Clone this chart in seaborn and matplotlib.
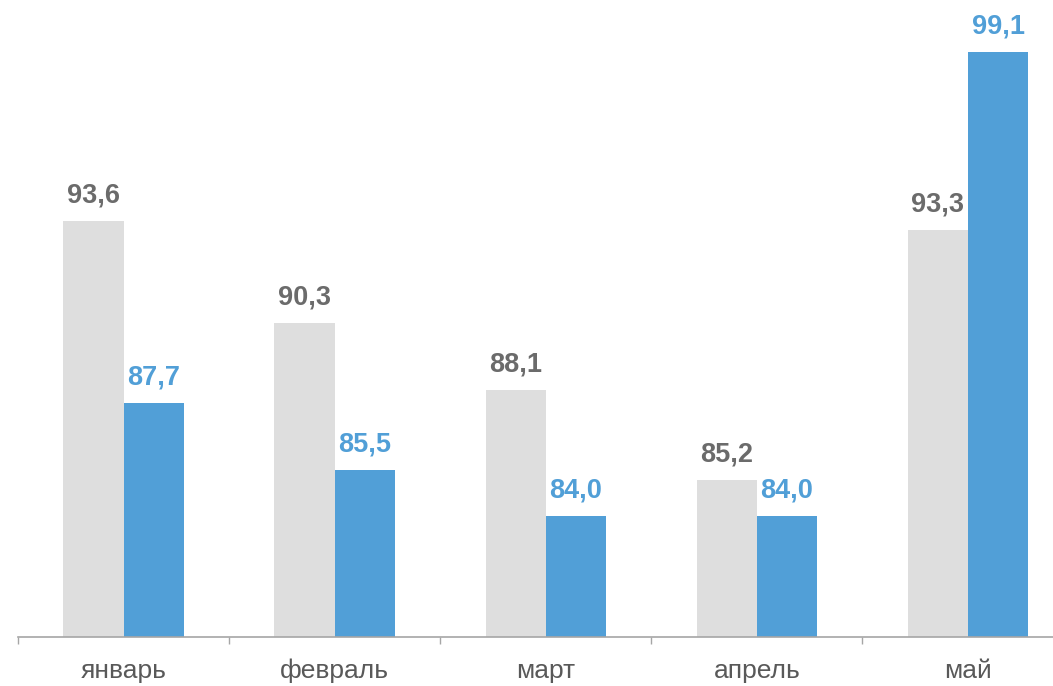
import pandas as pd
import matplotlib.pyplot as plt
import seaborn as sns
import numpy as np

# Chart data
months = ['январь', 'февраль', 'март', 'апрель', 'май']
series_names = ['prev', 'curr']
prev_values = [93.6, 90.3, 88.1, 85.2, 93.3]
curr_values = [87.7, 85.5, 84.0, 84.0, 99.1]

grey = '#dedede'
blue = '#519fd7'

sns.set_theme(style='white')
plt.rcParams['font.family'] = ['Liberation Sans', 'DejaVu Sans']

df = pd.DataFrame({
    'month': months * 2,
    'series': [series_names[0]] * len(months) + [series_names[1]] * len(months),
    'value': prev_values + curr_values,
})

fig = plt.figure(figsize=(10.53, 6.86), dpi=100)
ax = fig.add_axes([18 / 1053, (686 - 636.5) / 686, 1035 / 1053, 636.5 / 686])

sns.barplot(data=df, x='month', y='value', hue='series', order=months,
            hue_order=series_names, palette=[grey, blue], width=0.57,
            gap=0, saturation=1, legend=False, linewidth=0, ax=ax)

# value labels with a decimal comma
label_colors = ['#6b6b6b', blue]
for container, vals, col in zip(ax.containers, [prev_values, curr_values], label_colors):
    ax.bar_label(container, labels=[f'{v:.1f}'.replace('.', ',') for v in vals],
                 padding=9, color=col, fontsize=19.5, fontweight='bold')

ax.set_ylim(80.1, 100.78)
ax.set_xlim(-0.5, 4.403)

# tick marks between groups, labels centered under groups
ax.set_xticks(np.arange(-0.5, 4.0, 1.0))
ax.set_xticklabels([])
ax.set_xticks(range(len(months)), minor=True)
ax.set_xticklabels(months, minor=True, fontsize=19, color='#595959')
ax.tick_params(axis='x', which='major', direction='out', length=5,
               width=1, color='#a6a6a6', bottom=True)
ax.tick_params(axis='x', which='minor', length=0, pad=16)
ax.set_yticks([])
ax.set_xlabel('')
ax.set_ylabel('')

for side in ['top', 'right', 'left']:
    ax.spines[side].set_visible(False)
ax.spines['bottom'].set_color('#a6a6a6')
ax.spines['bottom'].set_linewidth(1.2)

fig.savefig('out.png', dpi=100)
plt.close()
